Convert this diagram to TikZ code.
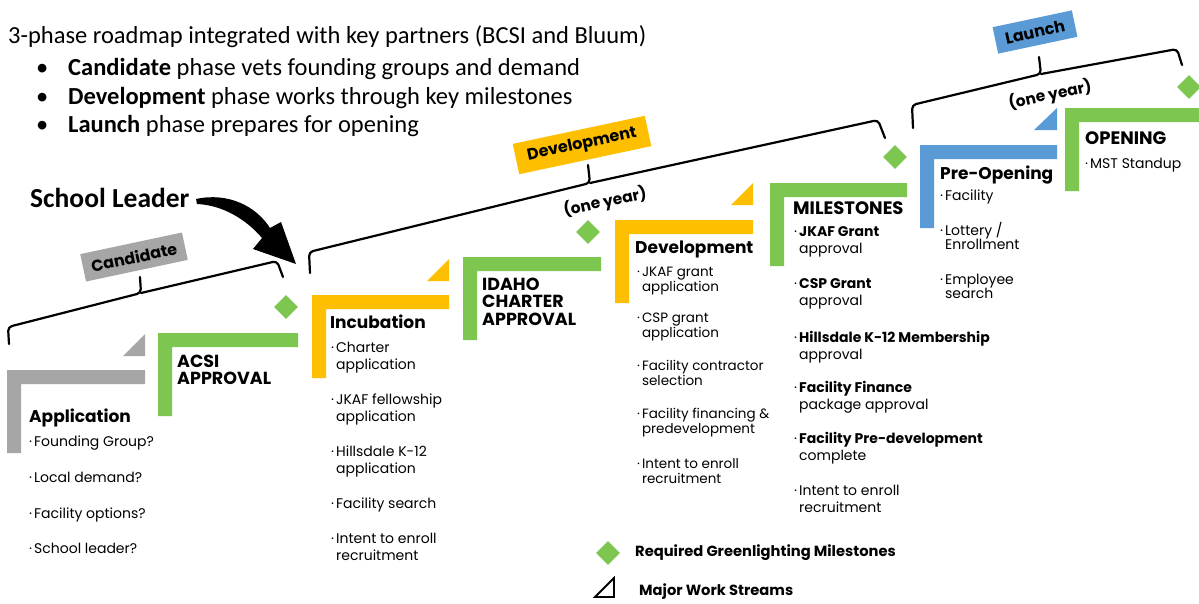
\documentclass[tikz,border=0pt]{standalone}
\usepackage{fontspec}
\setmainfont{Carlito}
\newfontfamily\pop{Poppins}
\usetikzlibrary{shapes.geometric}

\definecolor{rmgray}{HTML}{A6A6A6}
\definecolor{rmgreen}{HTML}{7DC64F}
\definecolor{rmyellow}{HTML}{FDBF00}
\definecolor{rmblue}{HTML}{5B9BD5}

% bulleted entries; the block's baseline is its first line
\newcommand\bl[2]{\begin{tabular}[t]{@{}l@{}}\textperiodcentered\kern2pt #1\\\phantom{\textperiodcentered\kern2pt}#2\end{tabular}}
\newcommand\bo[1]{\textperiodcentered\kern2pt #1}
\newcommand\stack[1]{\begin{tabular}[t]{@{}l@{}}#1\end{tabular}}

\begin{document}
\begin{tikzpicture}[x=1pt,y=-1pt,
  stairtitle/.style={anchor=base west, inner sep=0, font=\pop\bfseries\fontsize{17}{20}\selectfont},
  capstitle/.style={stairtitle, font=\pop\bfseries\fontsize{18}{20}\selectfont},
  gatetitle/.style={anchor=base west, inner sep=0, font=\pop\bfseries\fontsize{17.5}{17.5}\selectfont},
  item/.style={anchor=base west, inner sep=0, font=\pop\fontsize{14}{17}\selectfont},
  phasebox/.style={rotate=12, inner sep=0, minimum width=#1, font=\pop\bfseries\fontsize{16}{18}\selectfont},
  oneyear/.style={rotate=12, inner sep=0, font=\pop\bfseries\fontsize{15.5}{18}\selectfont},
  gate/.style={diamond, fill=rmgreen, inner sep=0, minimum width=24, minimum height=24},
  brace/.style={line width=2.2, rounded corners=4, line cap=round},
  legend/.style={anchor=west, inner sep=0, font=\pop\bfseries\fontsize{14.7}{17}\selectfont},
  headline/.style={anchor=base west, inner sep=0, font=\fontsize{24.5}{29}\selectfont}
]
\useasboundingbox[fill=white] (0,0) rectangle (1199,603);

% ---------- heading ----------
\node[headline] (head) at (8,43)
  {3-phase roadmap integrated with key partners (BCSI and Bluum)};
\foreach \yy/\txt [count=\i] in {75/{\textbf{Candidate} phase vets founding groups and demand},
                                 104/{\textbf{Development} phase works through key milestones},
                                 132/{\textbf{Launch} phase prepares for opening}}{
  \node[headline] (dot\i) at (36,\yy) {•};
  \node[headline] (pt\i) at (68,\yy) {\txt};
}

% ---------- stair steps ----------
\newcommand\stair[4]{\fill[#4] (#1,#2) -- (#3,#2) -- (#3,#2+14) -- (#1+14,#2+14) -- (#1+14,#2+83) -- (#1,#2+83) -- cycle;}
\stair{7}{370}{145}{rmgray}
\stair{158}{333}{298}{rmgreen}
\stair{312}{295}{449}{rmyellow}
\stair{463}{257}{601}{rmgreen}
\stair{615}{220}{753}{rmyellow}
\stair{770}{183}{907}{rmgreen}
\stair{920}{145}{1057}{rmblue}
\stair{1065}{108}{1199}{rmgreen}

% work-stream wedges
\fill[rmgray]   (123,356) -- (145,334) -- (145,356) -- cycle;
\fill[rmyellow] (427,281) -- (449,259) -- (449,281) -- cycle;
\fill[rmyellow] (731,205) -- (753,183) -- (753,205) -- cycle;
\fill[rmblue]   (1034,130) -- (1057,108) -- (1057,130) -- cycle;

% greenlighting gates
\node[gate] (g1) at (286,307) {};
\node[gate] (g2) at (588,232) {};
\node[gate] (g3) at (895,157) {};
\node[gate] (g4) at (1189,87) {};

% ---------- phase braces ----------
\draw[brace] (9,344) -- (8,327) -- (141,293) -- (140,277);
\draw[brace] (141,293) -- (277,261) -- (283,277);
\draw[brace] (310,273) -- (309,252) -- (590,183) -- (588,165);
\draw[brace] (590,183) -- (878,120) -- (885,138);
\draw[brace] (913,128) -- (912,105) -- (1041,74) -- (1039,57);
\draw[brace] (1041,74) -- (1177,49) -- (1182,65);

\node[phasebox=104, minimum height=28, fill=rmgray] (pc) at (134,257) {Candidate};
\node[phasebox=135, minimum height=31, fill=rmyellow] (pd) at (582,145) {Development};
\node[phasebox=81, minimum height=27, fill=rmblue] (pl) at (1035,32) {Launch};
\node[oneyear] (y1) at (605,202) {(one year)};
\node[oneyear] (y2) at (1050,95) {(one year)};

% ---------- school leader ----------
\node[anchor=base west, inner sep=0, font=\bfseries\fontsize{27.5}{32}\selectfont] (sl) at (30,207) {School Leader};
\coordinate (sltip) at (296,264);
\fill (196,199) .. controls (228,192) and (256,206) .. (270,228) -- (281,222) -- (sltip)
      -- (253,249) -- (262,238) .. controls (246,219) and (222,205) .. (197,204) -- cycle;

% ---------- stage texts ----------
\node[stairtitle] (t1) at (29,422) {Application};
\node[item] (a1) at (29,446) {\bo{Founding Group?}};
\node[item] (a2) at (29,482) {\bo{Local demand?}};
\node[item] (a3) at (29,518) {\bo{Facility options?}};
\node[item] (a4) at (29,553) {\bo{School leader?}};

\node[gatetitle] (t2) at (177,367) {\stack{ACSI\\APPROVAL}};

\node[stairtitle] (t3) at (330,328) {Incubation};
\node[item] (i1) at (331,352) {\bl{Charter}{application}};
\node[item] (i2) at (331,404) {\bl{JKAF fellowship}{application}};
\node[item] (i3) at (331,456) {\bl{Hillsdale K-12}{application}};
\node[item] (i4) at (331,508) {\bo{Facility search}};
\node[item] (i5) at (331,543) {\bl{Intent to enroll}{recruitment}};

\node[gatetitle] (t4) at (482,290) {\stack{IDAHO\\CHARTER\\APPROVAL}};

\node[stairtitle] (t5) at (635,253) {Development};
\begin{scope}[item/.append style={font=\pop\fontsize{13.5}{15.5}\selectfont}]
\node[item] (d1) at (637,276) {\bl{JKAF grant}{application}};
\node[item] (d2) at (637,322) {\bl{CSP grant}{application}};
\node[item] (d3) at (637,370) {\bl{Facility contractor}{selection}};
\node[item] (d4) at (637,418) {\bl{Facility financing \&}{predevelopment}};
\node[item] (d5) at (637,468) {\bl{Intent to enroll}{recruitment}};
\end{scope}

\node[capstitle] (t6) at (793,214) {MILESTONES};
\node[item] (m1) at (794,236) {\bl{\textbf{JKAF Grant}}{approval}};
\node[item] (m2) at (794,288) {\bl{\textbf{CSP Grant}}{approval}};
\node[item] (m3) at (794,342) {\bl{\textbf{Hillsdale K-12 Membership}}{approval}};
\node[item] (m4) at (794,392) {\bl{\textbf{Facility Finance}}{package approval}};
\node[item] (m5) at (794,443) {\bl{\textbf{Facility Pre-development}}{complete}};
\node[item] (m6) at (794,495) {\bl{Intent to enroll}{recruitment}};

\node[stairtitle] (t7) at (940,179) {Pre-Opening};
\begin{scope}[item/.append style={font=\pop\fontsize{14}{14.5}\selectfont}]
\node[item] (p1) at (940,200) {\bo{Facility}};
\node[item] (p2) at (940,235) {\bl{Lottery /}{Enrollment}};
\node[item] (p3) at (940,284) {\bl{Employee}{search}};
\end{scope}

\node[capstitle] (t8) at (1085,144) {OPENING};
\node[item] (o1) at (1085,168) {\bo{MST Standup}};

% ---------- legend ----------
\node[gate] (lg) at (608,553) {};
\node[legend] (lgt) at (635,553) {Required Greenlighting Milestones};
\draw[line width=1.8, line join=miter] (595,597) -- (614,578) -- (614,597) -- cycle;
\node[legend] (lwt) at (639,592) {Major Work Streams};
\end{tikzpicture}
\end{document}
